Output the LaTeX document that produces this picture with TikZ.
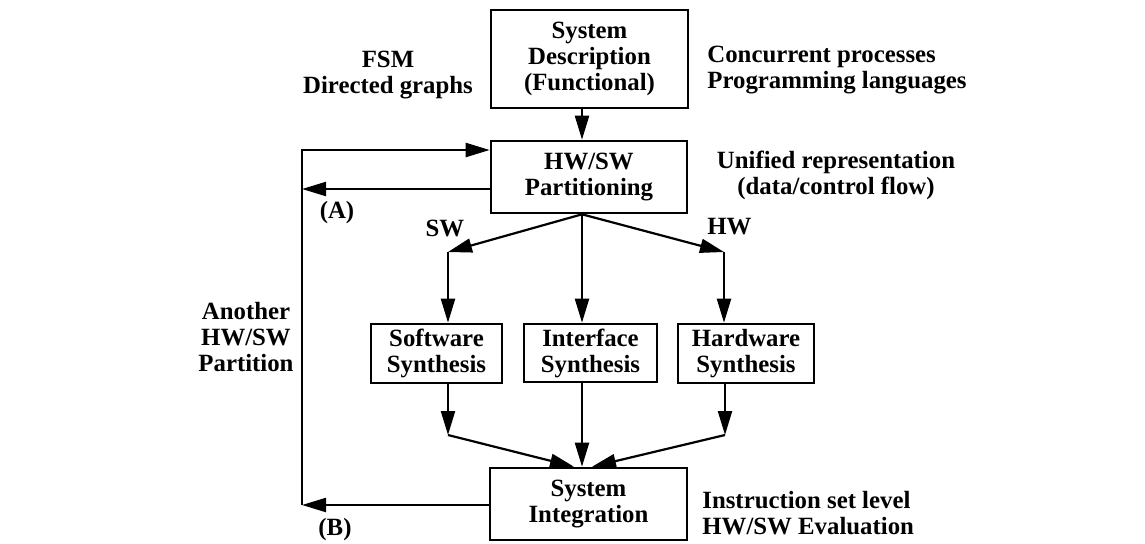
\documentclass[tikz,border=0pt]{standalone}
\usepackage{fontspec}
\setmainfont{Liberation Serif}
\usetikzlibrary{arrows.meta}
\begin{document}
\begin{tikzpicture}[x=0.5pt,y=-0.5pt,
  font=\fontsize{12.4}{13}\selectfont\bfseries,
  box/.style={draw,line width=1.3pt,inner sep=0pt,align=center},
  lbl/.style={inner sep=0pt,align=center},
  conn/.style={line width=1.1pt},
  arr/.style={conn,-{Triangle[length=12pt,width=7pt]}}
]
\useasboundingbox[fill=white] (0,0) rectangle (1145,543);
% boxes
\node[box,minimum width=98.5pt,minimum height=49pt] (sd) at (589.5,59) {System\\Description\\(Functional)};
\node[box,minimum width=98pt,minimum height=36pt] (part) at (589,177) {HW/SW\\Partitioning};
\node[box,minimum width=65.5pt,minimum height=29.5pt] (sw) at (436.5,353.5) {Software\\Synthesis};
\node[box,minimum width=66.5pt,minimum height=29pt] (if) at (590.5,353) {Interface\\Synthesis};
\node[box,minimum width=68pt,minimum height=29.5pt] (hw) at (746,353.5) {Hardware\\Synthesis};
\node[box,minimum width=98.5pt,minimum height=36pt] (integ) at (588.5,504) {System\\Integration};
% helper coordinates
\coordinate (spine) at (582,0);
\coordinate (fbtop) at (302,150);
\coordinate (fbA) at (302,189);
\coordinate (fbB) at (302,505);
\coordinate (swc) at (448,252);
\coordinate (hwc) at (724,252);
\coordinate (swl) at (448,435);
\coordinate (hwl) at (725,435);
% connectors
\draw[arr] (sd.south -| spine) -- (part.north -| spine);
\draw[arr] (fbB) -- (fbtop) -- (fbtop -| part.west);
\draw[arr] (fbA -| part.west) -- (fbA);
\draw[arr] (fbB -| integ.west) -- (fbB);
\draw[arr] (part.south -| spine) -- (swc);
\draw[arr] (swc) -- (swc |- sw.north);
\draw[arr] (part.south -| spine) -- (spine |- if.north);
\draw[arr] (part.south -| spine) -- (hwc);
\draw[arr] (hwc) -- (hwc |- hw.north);
\draw[arr] (swl |- sw.south) -- (swl);
\draw[arr] (swl) -- ([xshift=-4pt]spine |- integ.north);
\draw[arr] (spine |- if.south) -- (spine |- integ.north);
\draw[arr] (hwl |- hw.south) -- (hwl);
\draw[arr] (hwl) -- ([xshift=5pt]spine |- integ.north);
% labels
\node[lbl] (fsm) at (388,75) {FSM\\Directed graphs};
\node[lbl,anchor=west,align=left] (conc) at (707,70.5) {Concurrent processes\\Programming languages};
\node[lbl] (unif) at (836,175.5) {Unified representation\\(data/control flow)};
\node[lbl] (swlab) at (445,228) {SW};
\node[lbl,anchor=west] (hwlab) at (707,227) {HW};
\node[lbl] (alab) at (337,213) {(A)};
\node[lbl] (blab) at (335,530) {(B)};
\node[lbl] (another) at (246,337) {Another\\HW/SW\\Partition};
\node[lbl,anchor=west,align=left] (instr) at (702,513.5) {Instruction set level\\HW/SW Evaluation};
\end{tikzpicture}
\end{document}
